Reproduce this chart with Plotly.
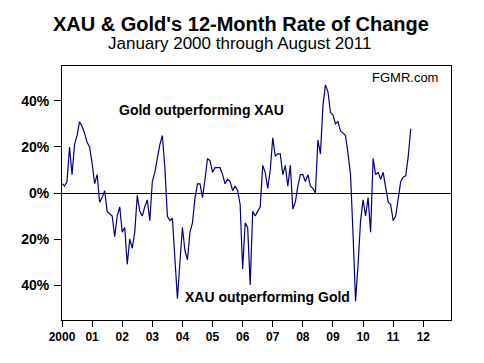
import plotly.graph_objects as go

# 12-month rate of change (XAU vs Gold), monthly Jan 2000 .. Aug 2011, in %
start_year = 2000
roc = [
    4, 3, 5, 20, 8, 21, 25, 31, 29, 26, 22, 20,
    13, 4, 8, -4, -2, 1, -8, -9, -10, -19, -10, -6,
    -17, -15, -31, -20, -24, -17, -1, -8, -10, -6, -3, -12,
    5, 9, 16, 21, 25, 11, -10, -12, -11, -28, -46, -30,
    -15, -25, -29, -17, -13, -2, 4, 4, -2, 6, 15, 14,
    9, 11, 11, 11, 8, 4, 6, 5, 1, 3, 1, -5,
    -33, -13, -15, -40, -8, -10, -8, -6, 12, 9, 2, 10,
    24, 16, 17, 17, 8, 12, 3, 12, -7, -4, 3, 8,
    8, 5, 8, 3, 2, 0, 23, 17, 38, 47, 44, 35,
    34, 30, 31, 27, 26, 25, 17, 8, -18, -47, -31, -12,
    -3, -10, -2, -17, 15, 8, 9, 6, 9, 2, -4, -5,
    -12, -10, -2, 5, 7, 7.5, 16, 28,
]
x_vals = [start_year + i / 12 for i in range(len(roc))]

x_ticks = list(range(2000, 2013))
x_tick_labels = ["2000", "01", "02", "03", "04", "05", "06", "07", "08", "09", "10", "11", "12"]
y_ticks = [-40, -20, 0, 20, 40]
y_tick_labels = ["40%", "20%", "0%", "20%", "40%"]

title_text = "XAU &amp; Gold's 12-Month Rate of Change"
subtitle_text = "January 2000 through August 2011"
source_text = "FGMR.com"
upper_note = "Gold outperforming XAU"
lower_note = "XAU outperforming Gold"

font_family = "Liberation Sans, Arial, sans-serif"

# The page body has an 8px default margin; size the figure so the whole
# picture lands where the reference has it inside the 484x363 window.
W, H = 476, 355
ML, MR, MT, MB = 54, 33, 58, 43
plot_w = W - ML - MR
plot_h = H - MT - MB


def px_x(px):
    return (px - 8 - ML) / plot_w


def px_y(py):
    return 1 - (py - 8 - MT) / plot_h


fig = go.Figure()
fig.add_trace(go.Scatter(
    x=x_vals, y=roc, mode="lines",
    line=dict(color="#000080", width=1.2),
    hoverinfo="skip", showlegend=False,
))

fig.update_layout(
    width=W, height=H,
    margin=dict(l=ML, r=MR, t=MT, b=MB),
    paper_bgcolor="white", plot_bgcolor="white",
    font=dict(family=font_family, color="black"),
    showlegend=False,
    xaxis=dict(
        range=[2000, 2012.92],
        tickmode="array", tickvals=x_ticks, ticktext=x_tick_labels,
        ticks="outside", ticklen=6, tickcolor="black", tickwidth=1,
        tickfont=dict(size=12, family=font_family, weight="bold"),
        showgrid=False, zeroline=False,
        showline=True, linecolor="black", linewidth=1, mirror=True,
    ),
    yaxis=dict(
        range=[-55.2, 55.2],
        tickmode="array", tickvals=y_ticks, ticktext=y_tick_labels,
        ticks="outside", ticklen=7, tickcolor="black", tickwidth=1,
        tickfont=dict(size=14, family=font_family, weight="bold"),
        showgrid=False,
        zeroline=True, zerolinecolor="black", zerolinewidth=1,
        showline=True, linecolor="black", linewidth=1, mirror=True,
        ticklabelstandoff=2,
    ),
    annotations=[
        dict(text="<b>" + title_text + "</b>", x=px_x(241), y=px_y(24),
             xref="paper", yref="paper", xanchor="center", yanchor="middle",
             showarrow=False, font=dict(size=20)),
        dict(text=subtitle_text, x=px_x(239), y=px_y(44),
             xref="paper", yref="paper", xanchor="center", yanchor="middle",
             showarrow=False, font=dict(size=17)),
        dict(text=source_text, x=px_x(440), y=px_y(77),
             xref="paper", yref="paper", xanchor="right", yanchor="middle",
             showarrow=False, font=dict(size=13)),
        dict(text="<b>" + upper_note + "</b>", x=px_x(117), y=px_y(110),
             xref="paper", yref="paper", xanchor="left", yanchor="middle",
             showarrow=False, font=dict(size=14)),
        dict(text="<b>" + lower_note + "</b>", x=px_x(183), y=px_y(297),
             xref="paper", yref="paper", xanchor="left", yanchor="middle",
             showarrow=False, font=dict(size=14)),
    ],
)

fig.write_html("out.html")
